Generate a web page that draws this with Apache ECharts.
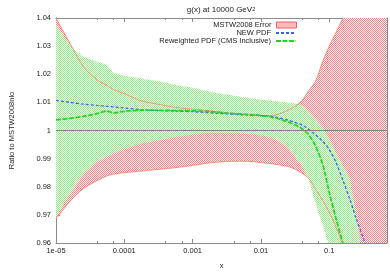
<!DOCTYPE html>
<html><head><meta charset="utf-8">
<script src="https://cdn.jsdelivr.net/npm/echarts@6/dist/echarts.min.js"></script>
<style>html,body{margin:0;padding:0;background:#fff}#c{width:390px;height:275px}</style>
</head><body><div id="c"></div>
<script>
// ---- data ----
const xValues   = [1e-5,1.6e-5,2.5e-5,4e-5,5.6e-5,7e-5,1e-4,1.8e-4,3.2e-4,5.6e-4,1e-3,1.8e-3,3.2e-3,5.6e-3,0.01,0.016,0.025,0.032,0.04,0.05,0.063,0.08,0.1,0.126,0.16,0.2,0.25,0.32,0.4,0.5,0.7];
const mstwUpper = [1.0400,1.0310,1.0228,1.0180,1.0160,1.0145,1.0131,1.0105,1.0093,1.0082,1.0076,1.0070,1.0063,1.0057,1.0053,1.0055,1.0072,1.0087,1.0107,1.0141,1.0175,1.0245,1.0300,1.0350,1.0402,1.0460,1.0530,1.0600,1.0680,1.0760,1.0900];
const mstwLower = [0.9686,0.9748,0.9793,0.9822,0.9839,0.9845,0.9850,0.9856,0.9862,0.9868,0.9876,0.9885,0.9890,0.9891,0.9886,0.9880,0.9872,0.9862,0.9848,0.9830,0.9792,0.9752,0.9710,0.9655,0.9590,0.9520,0.9450,0.9370,0.9290,0.9200,0.9050];
const rwUpper   = [1.0375,1.0305,1.0262,1.0245,1.0233,1.0205,1.0195,1.0185,1.0175,1.0163,1.0152,1.0138,1.0128,1.0118,1.0110,1.0105,1.0100,1.0096,1.0088,1.0064,1.0040,1.0008,0.9968,0.9918,0.9872,0.9825,0.9690,0.9500,0.9350,0.9200,0.9000];
const rwLower   = [0.9693,0.9775,0.9845,0.9890,0.9908,0.9920,0.9935,0.9955,0.9966,0.9977,0.9988,0.9993,0.9992,0.9990,0.9984,0.9972,0.9940,0.9905,0.9875,0.9824,0.9740,0.9665,0.9585,0.9500,0.9420,0.9340,0.9260,0.9180,0.9100,0.9020,0.8900];
const newPdf    = [1.0107,1.0100,1.0094,1.0089,1.0086,1.0084,1.0080,1.0074,1.0071,1.0069,1.0067,1.0063,1.0059,1.0056,1.0053,1.0048,1.0037,1.0028,1.0019,1.0004,0.9984,0.9962,0.9932,0.9885,0.9820,0.9755,0.9685,0.9612,0.9540,0.9460,0.9330];
const rwCentral = [1.0038,1.0043,1.0050,1.0060,1.0069,1.0063,1.0068,1.0072,1.0072,1.0071,1.0070,1.0067,1.0062,1.0058,1.0053,1.0045,1.0030,1.0019,1.0006,0.9985,0.9945,0.9880,0.9780,0.9685,0.9595,0.9500,0.9400,0.9300,0.9200,0.9100,0.8950];
const xMajorTicks = [1e-5,1e-4,1e-3,0.01,0.1];
const xTickLabels = ['1e-05','0.0001','0.001','0.01','0.1'];
const yMin = 0.96, yMax = 1.04, yStep = 0.01;
const xMin = 1e-5, xMax = 0.7;
const refLine = 1;
const names = {mstw:'MSTW2008 Error', newPdf:'NEW PDF', rw:'Reweighted PDF (CMS Inclusive)'};
const titleMain = 'g(x) at 10000 GeV', titleSup = '2';
const yName = 'Ratio to MSTW2008nlo', xName = 'x';

// ---- helpers ----
const FONT = 'Liberation Sans, Arial, Helvetica, sans-serif';
function checker(color){
  const c = document.createElement('canvas'); c.width = 2; c.height = 2;
  const g = c.getContext('2d');
  g.fillStyle = '#ffffff'; g.fillRect(0,0,2,2);
  g.fillStyle = color; g.fillRect(0,0,1,1); g.fillRect(1,1,1,1);
  return {image: c, repeat: 'repeat'};
}
const pair = (arr) => xValues.map((x,i) => [x, arr[i]]);
const AX = '#8a8a8a';
const RED = '#ff7a7a', GREEN = '#8af27a';

function bandSeries(name, upper, lower, fill, z){
  return {
    name, type:'custom', silent:true, z, data:[[xMin, yMin]],
    renderItem:(params, api) => {
      const pts = [];
      for (let i = 0; i < xValues.length; i++) pts.push(api.coord([xValues[i], upper[i]]));
      for (let i = xValues.length - 1; i >= 0; i--) pts.push(api.coord([xValues[i], lower[i]]));
      const cs = params.coordSys;
      return {type:'polygon', shape:{points:pts}, style:{fill:fill, stroke:null},
        clipPath:{type:'rect', shape:{x:cs.x, y:cs.y, width:cs.width, height:cs.height}}};
    }
  };
}

function xAxisCfg(pos, labels){
  return {
    type:'log', logBase:10, min:xMin, max:xMax, position:pos,
    axisLine:{show:true, lineStyle:{color:AX, width:1}},
    axisTick:{show:true, inside:true, length:4, lineStyle:{color:AX}},
    minorTick:{show:true, splitNumber:3, length:2, lineStyle:{color:AX}},
    splitLine:{show:false}, minorSplitLine:{show:false},
    axisLabel:{show:labels, fontSize:7.5, color:'#222', fontFamily:FONT, margin:4,
      formatter:(v)=>{ const i = xMajorTicks.findIndex(t=>Math.abs(Math.log10(t)-Math.log10(v))<1e-6); return i>=0 ? xTickLabels[i] : ''; }},
    name: labels ? xName : '', nameLocation:'middle', nameGap:19,
    nameTextStyle:{fontSize:7.5, color:'#222', fontFamily:FONT}
  };
}
function yAxisCfg(pos, labels){
  return {
    type:'value', min:yMin, max:yMax, interval:yStep, position:pos,
    axisLine:{show:true, lineStyle:{color:AX, width:1}},
    axisTick:{show:true, inside:true, length:4, lineStyle:{color:AX}},
    splitLine:{show:false},
    axisLabel:{show:labels, fontSize:7.5, color:'#222', fontFamily:FONT, margin:5},
    name: labels ? yName : '', nameLocation:'middle', nameGap:40, nameRotate:90,
    nameTextStyle:{fontSize:7.5, color:'#222', fontFamily:FONT}
  };
}
const legendBase = {orient:'vertical', align:'right', right:93, itemWidth:20, itemHeight:6, itemGap:0, padding:0,
  selectedMode:false, textStyle:{fontSize:7.5, color:'#222', fontFamily:FONT}};
const noSym = {color:'rgba(0,0,0,0)', borderWidth:0};

const chart = echarts.init(document.getElementById('c'), null, {renderer:'canvas'});
chart.setOption({
  animation:false,
  backgroundColor:'#ffffff',
  title:{text:'{a|'+titleMain+'}{b|'+titleSup+'}', left:216, top:1, textAlign:'center',
    textStyle:{fontWeight:'normal', rich:{a:{fontSize:8, fontWeight:'normal', color:'#222', fontFamily:FONT},
      b:{fontSize:5.5, fontWeight:'normal', color:'#222', fontFamily:FONT, verticalAlign:'top'}}}},
  grid:{left:46, right:2, top:18, bottom:25},
  xAxis:[xAxisCfg('bottom', true), xAxisCfg('top', false)],
  yAxis:[yAxisCfg('left', true), yAxisCfg('right', false)],
  legend:[
    Object.assign({}, legendBase, {top:21, data:[{name:names.mstw, icon:'rect', itemStyle:{color:checker(RED), borderColor:'#f06060', borderWidth:1}}]}),
    Object.assign({}, legendBase, {top:29, data:[{name:names.newPdf, itemStyle:noSym}]}),
    Object.assign({}, legendBase, {top:37, data:[{name:names.rw, itemStyle:noSym}]})
  ],
  series:[
    bandSeries(names.mstw, mstwUpper, mstwLower, checker(RED), 1),
    bandSeries('rwBand', rwUpper, rwLower, checker(GREEN), 2),
    {name:'mstwUpperEdge', type:'line', data:pair(mstwUpper), symbol:'none', silent:true, smooth:0.3,
      lineStyle:{color:'#f07a66', width:0.8}, z:3,
      markLine:{silent:true, symbol:'none', label:{show:false}, lineStyle:{color:'#808080', width:1.2, type:'solid'}, data:[{yAxis:refLine}]}},
    {name:'mstwLowerEdge', type:'line', data:pair(mstwLower), symbol:'none', silent:true, smooth:0.3,
      lineStyle:{color:'#f07a66', width:0.8}, z:3},
    {name:names.newPdf, type:'line', data:pair(newPdf), symbol:'none', smooth:0.3,
      lineStyle:{color:'#3a5ef0', width:1.3, type:[3,2]}, itemStyle:{color:'#3a5ef0'}, z:4},
    {name:names.rw, type:'line', data:pair(rwCentral), symbol:'none', smooth:0.3,
      lineStyle:{color:'#22d422', width:1.7, type:[5,1.5]}, itemStyle:{color:'#22d422'}, z:4}
  ]
});
</script></body></html>
